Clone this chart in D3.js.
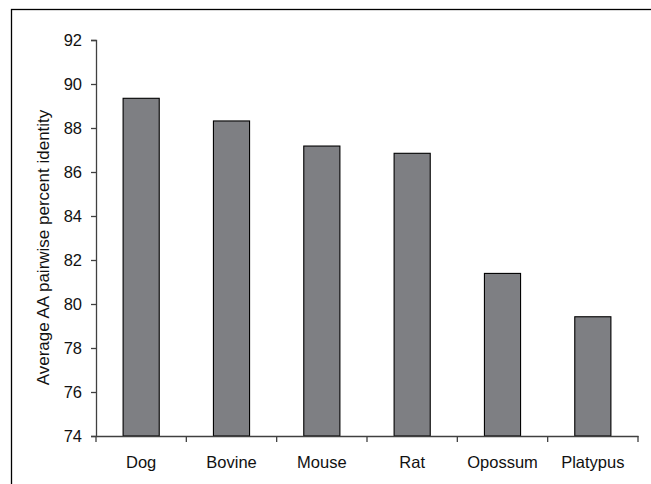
<!DOCTYPE html>
<html>
<head>
<meta charset="utf-8">
<script src="https://d3js.org/d3.v7.min.js"></script>
<style>
    body { margin: 0; background: #fff; }
    svg { display: block; font-family: "Liberation Sans", Arial, sans-serif; }
</style>
</head>
<body>
<div id="chart"></div>
<script>
// species on the x axis
const species = ['Dog', 'Bovine', 'Mouse', 'Rat', 'Opossum', 'Platypus'];
// average AA pairwise percent identity per species
const identity = [89.35, 88.32, 87.18, 86.85, 81.39, 79.42];
// y axis ticks
const yTicks = [74, 76, 78, 80, 82, 84, 86, 88, 90, 92];

const width = 651, height = 484;
const margin = {top: 40, right: 13, bottom: 48, left: 96};

const data = species.map((s, i) => ({key: s, value: identity[i]}));

const svg = d3.select('#chart').append('svg')
    .attr('width', width)
    .attr('height', height);

// frame around the figure, right and bottom run off the page
svg.append('rect')
    .attr('x', 11.5)
    .attr('y', 9.5)
    .attr('width', width + 20)
    .attr('height', height + 20)
    .attr('fill', 'none')
    .attr('stroke', '#000')
    .attr('stroke-width', 1.3);

//************** SCALES ******************//
const xScale = d3.scaleBand()
    .domain(species)
    .range([margin.left, width - margin.right])
    .paddingInner(0.6)
    .paddingOuter(0.3);

// band lines for the category ticks
const xEdges = d3.scaleBand()
    .domain(species)
    .range([margin.left, width - margin.right]);

const yScale = d3.scaleLinear()
    .domain([74, 92])
    .range([height - margin.bottom, margin.top]);

//************** BARS ******************//
svg.selectAll('rect.bar')
    .data(data)
    .join('rect')
    .attr('class', 'bar')
    .attr('x', d => xScale(d.key))
    .attr('width', xScale.bandwidth())
    .attr('y', d => yScale(d.value))
    .attr('height', d => yScale(74) - yScale(d.value))
    .attr('fill', '#7e7f83')
    .attr('stroke', '#000')
    .attr('stroke-width', 1.1);

//************** AXES ******************//
const axisColor = '#404040';

const yAxis = svg.append('g')
    .attr('transform', `translate(${margin.left},0)`)
    .call(d3.axisLeft(yScale).tickValues(yTicks).tickSize(5).tickPadding(9));

const xAxis = svg.append('g')
    .attr('transform', `translate(0,${height - margin.bottom})`)
    .call(d3.axisBottom(xEdges).tickSize(0).tickPadding(20));

// category boundary ticks, drawn below the axis line
xAxis.selectAll('.edge')
    .data(species.concat(['end']))
    .join('line')
    .attr('class', 'edge')
    .attr('x1', (d, i) => i < species.length ? xEdges(d) : xEdges.range()[1])
    .attr('x2', (d, i) => i < species.length ? xEdges(d) : xEdges.range()[1])
    .attr('y1', 0)
    .attr('y2', 6)
    .attr('stroke', axisColor)
    .attr('stroke-width', 1.3);

[xAxis, yAxis].forEach(ax => {
    ax.select('.domain').attr('stroke', axisColor).attr('stroke-width', 1.3);
    ax.selectAll('.tick line').attr('stroke', axisColor).attr('stroke-width', 1.3);
    ax.selectAll('.tick text')
        .attr('fill', '#111')
        .style('font-size', '16.5px')
        .style('font-family', '"Liberation Sans", Arial, sans-serif');
});

// y axis title
svg.append('text')
    .attr('transform', `translate(49,${(108 + 387) / 2}) rotate(-90)`)
    .attr('text-anchor', 'middle')
    .attr('fill', '#111')
    .style('font-size', '17px')
    .text('Average AA pairwise percent identity');
</script>
</body>
</html>
